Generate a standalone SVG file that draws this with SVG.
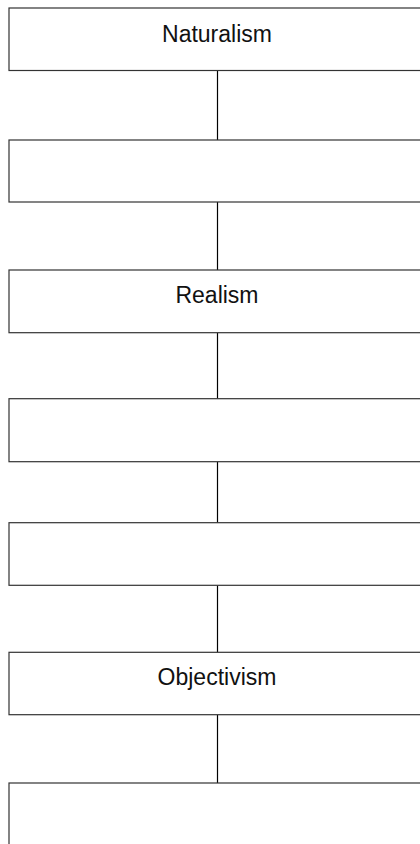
<svg xmlns="http://www.w3.org/2000/svg" width="420" height="844" viewBox="0 0 420 844">
<style>
.box{fill:#ffffff;stroke:#333333;stroke-width:1.2}
.lbl{font-family:"Liberation Sans",Arial,sans-serif;font-size:23px;fill:#111111;text-anchor:middle}
.edge{stroke:#000000;stroke-width:1.2;fill:none}
</style>
<rect width="420" height="844" fill="#ffffff"/>
<g id="connectors">
<line class="edge" x1="217.5" y1="70.5" x2="217.5" y2="140"/>
<line class="edge" x1="217.5" y1="202" x2="217.5" y2="270"/>
<line class="edge" x1="217.5" y1="332.7" x2="217.5" y2="398.7"/>
<line class="edge" x1="217.5" y1="461.7" x2="217.5" y2="522.7"/>
<line class="edge" x1="217.5" y1="585.3" x2="217.5" y2="652.3"/>
<line class="edge" x1="217.5" y1="714.7" x2="217.5" y2="783"/>
</g>
<g id="n1"><rect class="box" x="9" y="8" width="417" height="62.5"/><text class="lbl" x="217" y="41.5">Naturalism</text></g>
<g id="n2"><rect class="box" x="9" y="140" width="417" height="62"/></g>
<g id="n3"><rect class="box" x="9" y="270" width="417" height="62.7"/><text class="lbl" x="217" y="302.7">Realism</text></g>
<g id="n4"><rect class="box" x="9" y="398.7" width="417" height="63"/></g>
<g id="n5"><rect class="box" x="9" y="522.7" width="417" height="62.6"/></g>
<g id="n6"><rect class="box" x="9" y="652.3" width="417" height="62.4"/><text class="lbl" x="217" y="685">Objectivism</text></g>
<g id="n7"><rect class="box" x="9" y="783" width="417" height="70"/></g>
</svg>
